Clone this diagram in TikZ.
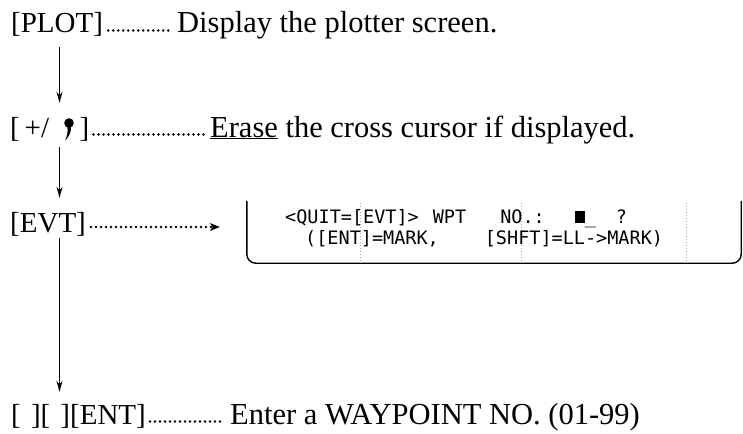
\documentclass[tikz,border=0pt]{standalone}
\usepackage{fontspec}
\setmainfont{Liberation Serif}
\newfontfamily\lcd{DejaVu Sans Mono}
\usetikzlibrary{arrows.meta}
\tikzset{
  lbl/.style={inner sep=0pt, anchor=base west, font=\fontsize{29}{34}\selectfont, text height=20pt, text depth=6pt},
  desc/.style={lbl, font=\fontsize{30.5}{36}\selectfont},
  lcdtxt/.style={inner sep=0pt, anchor=base west, font=\lcd\fontsize{18.5}{22}\selectfont},
  vline/.style={line width=1.1pt, -{Stealth[length=11pt,width=6pt]}},
  leader/.style={line width=2.8pt, line cap=round, dash pattern=on 0pt off 5pt},
  dotarrow/.style={leader, -{Stealth[length=10pt,width=8pt,inset=3pt,line width=0pt]}},
  screenframe/.style={line width=1.4pt, rounded corners=9pt},
  gridline/.style={gray!70, line width=0.6pt, dash pattern=on 1pt off 2pt}
}
\begin{document}
\begin{tikzpicture}[x=1pt, y=-1pt]
\useasboundingbox (0,0) rectangle (743,433);
% labels and descriptions
\node[lbl] (plot) at (11,33) {[PLOT]};
\node[desc] (d1) at (177,33) {Display the plotter screen.};
\node[lbl] (plus) at (10,137) {[\,+/\hspace{1.05em}]};
\node[desc] (d2) at (210,137) {\underline{Erase} the cross cursor if displayed.};
\node[lbl] (evt) at (10,232) {[EVT]};
\node[lbl] (ent) at (11,424) {[\hspace{0.35em}][\hspace{0.35em}][ENT]};
\node[desc] (d4) at (230,424) {Enter a WAYPOINT NO. (01-99)};
% marker symbol inside [+/ ]
\fill (69,123) circle (4.8pt);
\fill (71,126) .. controls (71.3,132) and (69,137) .. (65,140.5)
      .. controls (67.3,136) and (68.3,131) .. (67.1,126) -- cycle;
% leaders
\draw[leader, shorten <=5pt, shorten >=6pt] ([yshift=2.5pt]plot.base east) -- ([yshift=2.5pt]d1.base west);
\draw[leader, shorten <=4pt, shorten >=6pt] ([yshift=2.5pt]plus.base east) -- ([yshift=2.5pt]d2.base west);
\draw[leader, shorten <=4pt, shorten >=6pt] ([yshift=2.5pt]ent.base east) -- ([yshift=2.5pt]d4.base west);
% vertical flow
\coordinate (ax) at (59.5,0);
\draw[vline, shorten <=8pt, shorten >=14pt] (plot.south -| ax) -- (plus.north -| ax);
\draw[vline, shorten <=4pt, shorten >=14pt] (plus.south -| ax) -- (evt.north -| ax);
\draw[vline, shorten <=0pt, shorten >=12pt] (evt.south -| ax) -- (ent.north -| ax);
% screen
\node[minimum width=494pt, minimum height=62pt, inner sep=0pt] (screen) at (494,232) {};
\draw[screenframe] (screen.north west) -- (screen.south west) -- (screen.south east) -- (screen.north east);
\foreach \gx in {360,521,686} \draw[gridline] (\gx,203) -- (\gx,261);
\node[lcdtxt] (s1) at (285,223) {<QUIT=[EVT]>\hspace{14pt}WPT\hspace{34pt}NO.:\hspace{30pt}\rule{10pt}{12pt}\_\hspace{20pt}?};
\node[lcdtxt] (s2) at (305,244) {([ENT]=MARK,\hspace{46pt}[SHFT]=LL->MARK)};
% EVT -> screen
\draw[dotarrow, shorten <=5pt, shorten >=27pt] ([yshift=5pt]evt.base east) -- ([yshift=5pt]evt.base east -| screen.west);
\end{tikzpicture}
\end{document}
